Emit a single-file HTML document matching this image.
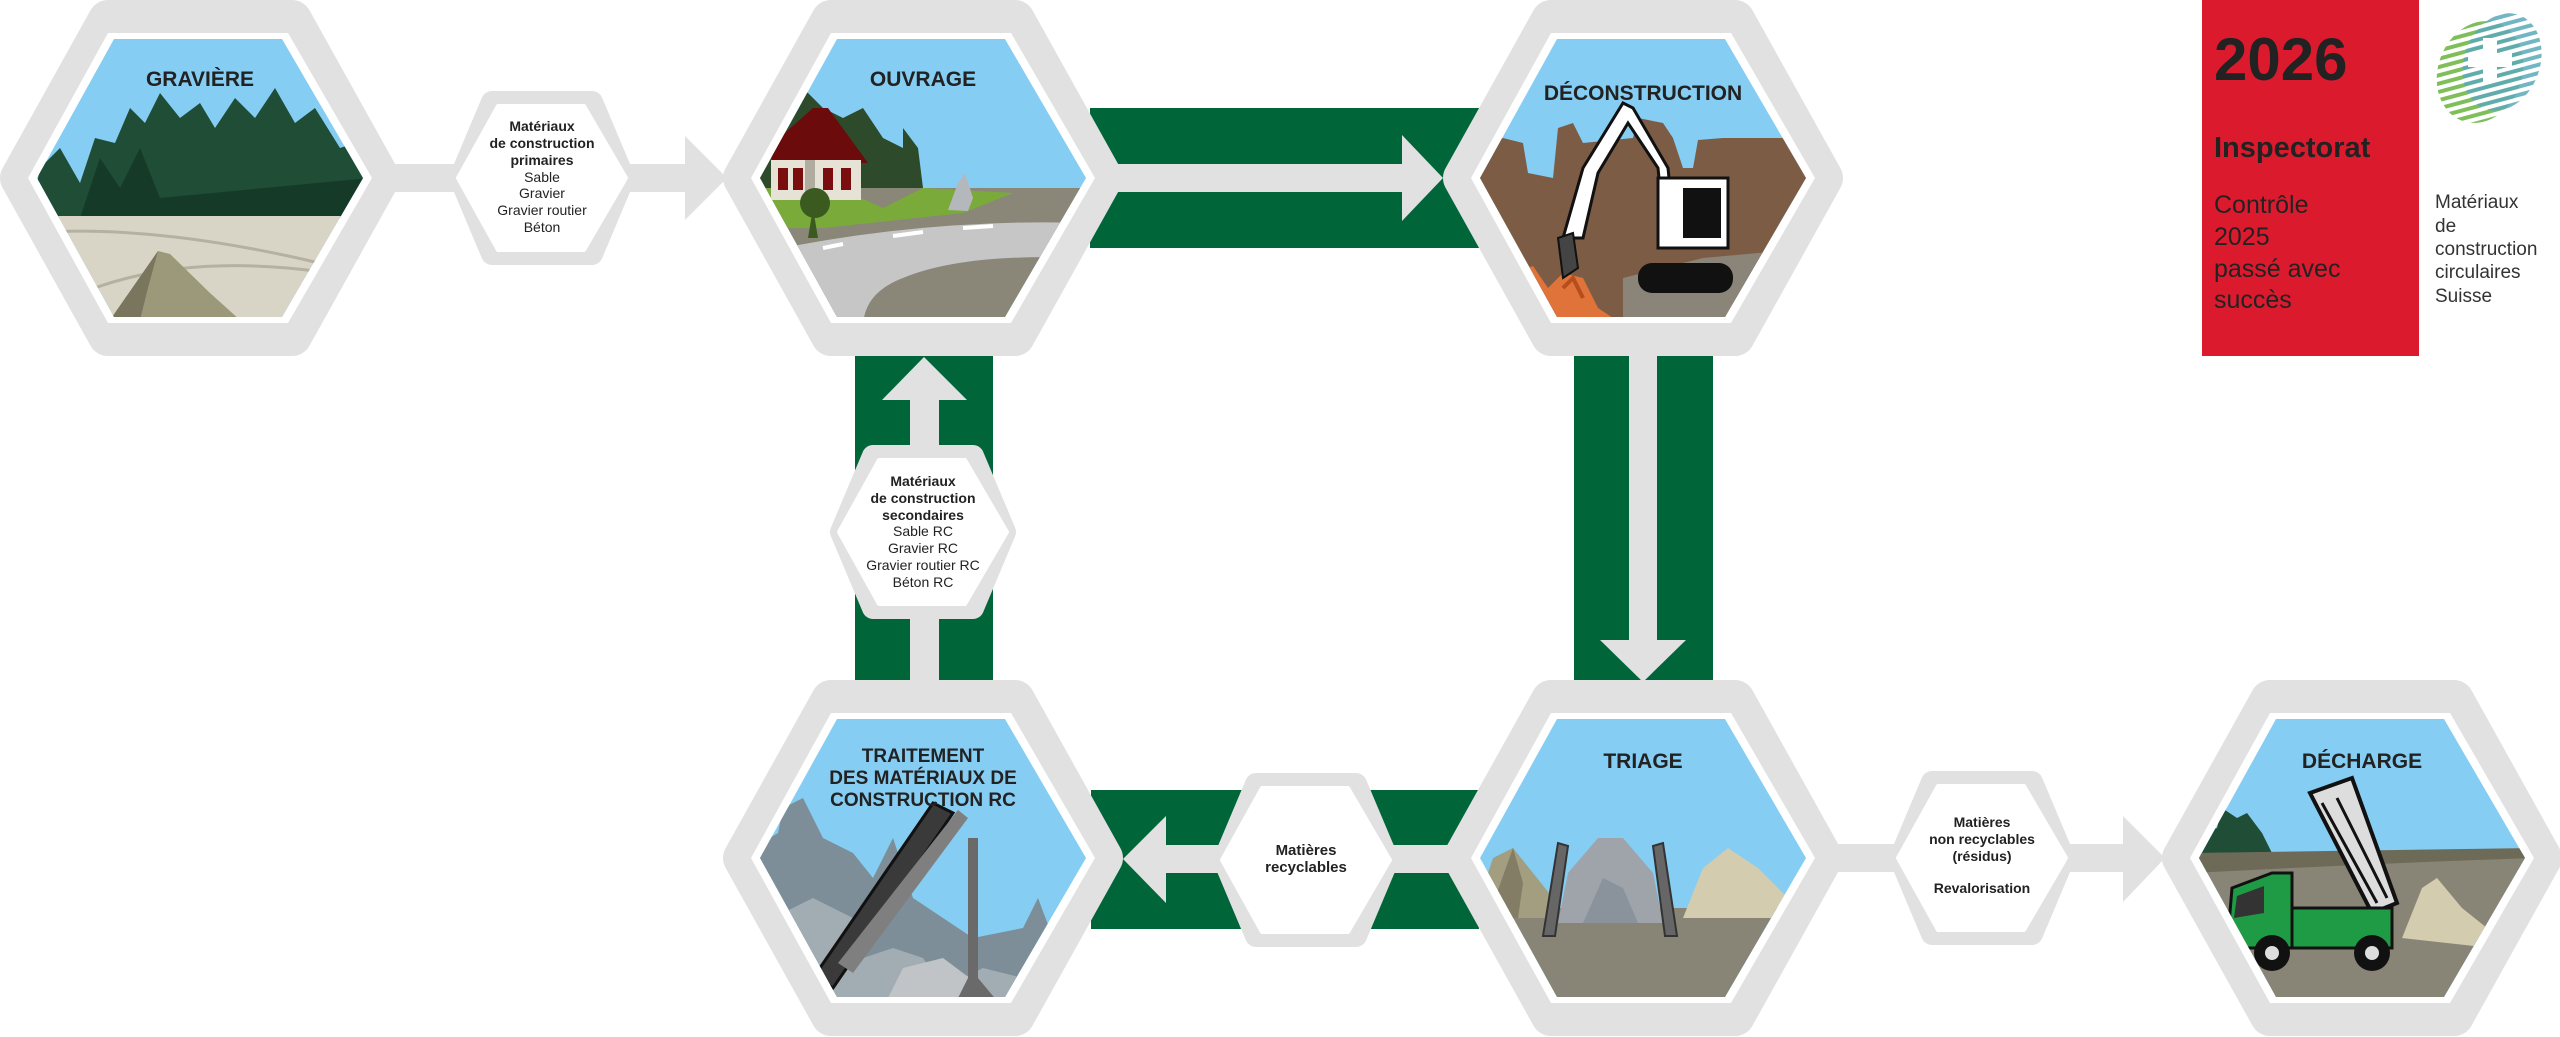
<!DOCTYPE html>
<html><head><meta charset="utf-8"><style>
html,body{margin:0;padding:0;background:#fff;}
svg{display:block;}
text{font-family:"Liberation Sans Narrow","Liberation Sans",sans-serif;fill:#222;}
.t{font-weight:bold;font-size:21px;text-anchor:middle;}
.s{font-size:14px;text-anchor:middle;}
.sb{font-size:14px;font-weight:bold;text-anchor:middle;}
</style></head><body>
<svg width="2560" height="1037" viewBox="0 0 2560 1037" xmlns="http://www.w3.org/2000/svg">
<defs>
<polygon id="outer" points="-180,0 -92,-158 92,-158 180,0 92,158 -92,158" fill="#e1e1e1" stroke="#e1e1e1" stroke-width="40" stroke-linejoin="round"/>
<polygon id="white" points="-172,0 -92,-145 88,-145 172,0 88,145 -92,145" fill="#fff"/>
<clipPath id="img"><polygon points="-163,0 -86,-139 82,-139 163,0 82,139 -86,139"/></clipPath>
<g id="small">
<polygon points="-82,0 -50,-76 50,-76 82,0 50,76 -50,76" fill="#e1e1e1" stroke="#e1e1e1" stroke-width="22" stroke-linejoin="round"/>
<polygon points="-84,0 -44,-72 42,-72 84,0 42,72 -44,72" fill="#fff" stroke="#fff" stroke-width="4" stroke-linejoin="round"/>
</g>
<pattern id="hatch" width="8" height="8" patternUnits="userSpaceOnUse" patternTransform="rotate(-35)">
<rect width="8" height="4" fill="#7fbf5a"/><rect y="4" width="8" height="4" fill="#fff"/>
</pattern>
<pattern id="hatch2" width="8" height="8" patternUnits="userSpaceOnUse" patternTransform="rotate(-35)">
<rect width="8" height="4" fill="#5aa9b8"/><rect y="4" width="8" height="4" fill="#fff"/>
</pattern>
</defs>

<rect x="1090" y="108" width="390" height="140" fill="#00663a"/>
<rect x="1574" y="356" width="139" height="327" fill="#00663a"/>
<rect x="855" y="356" width="138" height="327" fill="#00663a"/>
<rect x="1091" y="790" width="388" height="139" fill="#00663a"/>

<rect x="390" y="164" width="300" height="28" fill="#e1e1e1"/>
<polygon points="685,136 727,178 685,220" fill="#e1e1e1"/>
<rect x="1110" y="164" width="295" height="28" fill="#e1e1e1"/>
<polygon points="1402,135 1443,178 1402,221" fill="#e1e1e1"/>
<rect x="1629" y="350" width="28" height="292" fill="#e1e1e1"/>
<polygon points="1600,640 1686,640 1643,682" fill="#e1e1e1"/>
<rect x="910" y="398" width="29" height="290" fill="#e1e1e1"/>
<polygon points="882,400 967,400 924,357" fill="#e1e1e1"/>
<rect x="1164" y="845" width="290" height="28" fill="#e1e1e1"/>
<polygon points="1166,816 1123,859 1166,903" fill="#e1e1e1"/>
<rect x="1835" y="844" width="292" height="28" fill="#e1e1e1"/>
<polygon points="2123,816 2165,858 2123,902" fill="#e1e1e1"/>

<!-- GRAVIERE -->
<g transform="translate(200,178)">
<use href="#outer"/><use href="#white"/>
<g clip-path="url(#img)">
<rect x="-170" y="-150" width="340" height="300" fill="#85cdf3"/>
<path d="M-170,40 L-160,-10 L-140,-30 L-120,5 L-105,-40 L-85,-35 L-70,-70 L-55,-55 L-40,-85 L-20,-60 L0,-75 L15,-50 L35,-80 L55,-60 L75,-90 L95,-55 L115,-70 L140,-30 L170,-40 L170,40 Z" fill="#1f4d36"/>
<path d="M-120,40 L-100,-20 L-80,10 L-60,-30 L-40,20 L170,0 L170,40 Z" fill="#163a28"/>
<rect x="-170" y="38" width="340" height="120" fill="#d9d5c6"/>
<path d="M-170,55 Q-40,45 140,90" stroke="#b5b1a2" stroke-width="3" fill="none"/>
<path d="M-150,130 Q-40,70 130,95" stroke="#b5b1a2" stroke-width="3" fill="none"/>
<path d="M-90,142 L-42,73 L-30,76 L10,115 L40,142 Z" fill="#9c987a"/>
<path d="M-90,142 L-42,73 L-52,110 L-60,142 Z" fill="#7a765e"/>
</g>
<text class="t" x="0" y="-92">GRAVIÈRE</text>
</g>

<g transform="translate(542,178)"><use href="#small"/></g>
<text class="sb" x="542" y="131">Matériaux</text>
<text class="sb" x="542" y="148">de construction</text>
<text class="sb" x="542" y="165">primaires</text>
<text class="s" x="542" y="182">Sable</text>
<text class="s" x="542" y="198">Gravier</text>
<text class="s" x="542" y="215">Gravier routier</text>
<text class="s" x="542" y="232">Béton</text>

<!-- OUVRAGE -->
<g transform="translate(923,178)">
<use href="#outer"/><use href="#white"/>
<g clip-path="url(#img)">
<rect x="-170" y="-150" width="340" height="300" fill="#85cdf3"/>
<path d="M-165,10 L-160,-40 L-140,-70 L-120,-90 L-100,-70 L-80,-60 L-60,-70 L-40,-40 L-20,-30 L-10,0 L-30,20 Z" fill="#2d4a2a"/>
<path d="M-20,-50 L-5,-30 L0,10 L-20,20 Z" fill="#2d4a2a"/>
<rect x="-165" y="10" width="340" height="150" fill="#8a8778"/>
<path d="M-165,10 L-80,12 L-40,30 L0,10 L90,15 L40,35 L-100,50 L-165,50 Z" fill="#7aab3a"/>
<path d="M-165,75 Q0,40 160,45 L160,80 Q40,75 -20,100 Q-60,115 -60,150 L-165,150 Z" fill="#c6c6c6"/>
<path d="M-162,92 L-145,87 M-100,70 L-80,66 M-30,58 L0,54 M40,50 L70,48" stroke="#fff" stroke-width="4"/>
<polygon points="-155,-30 -110,-70 -95,-70 -55,-15 -150,-15" fill="#6b0b0b"/>
<rect x="-152" y="-18" width="90" height="40" fill="#e6e2d6"/>
<rect x="-145" y="-10" width="10" height="22" fill="#7a0d0d"/><rect x="-130" y="-10" width="10" height="22" fill="#7a0d0d"/>
<rect x="-100" y="-10" width="10" height="22" fill="#7a0d0d"/><rect x="-82" y="-10" width="10" height="22" fill="#7a0d0d"/>
<rect x="-118" y="-18" width="10" height="40" fill="#b0aca0"/>
<path d="M-110,30 L-115,60 L-105,60 Z" fill="#3b5a20"/><circle cx="-108" cy="25" r="15" fill="#3b5a20"/>
<path d="M25,32 L35,5 L42,-5 L50,20 L45,33 Z" fill="#b4b8bc"/>
</g>
<text class="t" x="0" y="-92">OUVRAGE</text>
</g>

<!-- DECONSTRUCTION -->
<g transform="translate(1643,178)">
<use href="#outer"/><use href="#white"/>
<g clip-path="url(#img)">
<rect x="-170" y="-150" width="340" height="300" fill="#85cdf3"/>
<path d="M-170,140 L-170,-25 L-140,-40 L-120,-35 L-115,-5 L-90,0 L-85,-50 L-70,-55 L-60,-35 L-10,-40 L-5,-60 L20,-55 L30,-40 L40,-10 L50,-10 L55,-38 L80,-40 L170,-40 L170,140 Z" fill="#7d5c45"/>
<path d="M-20,140 L-20,100 L60,80 L170,70 L170,140 Z" fill="#8a8578"/>
<path d="M-165,140 L-150,110 L-130,95 L-110,88 L-95,110 L-80,95 L-60,100 L-45,130 L-30,140 Z" fill="#e0733a"/>
<path d="M-130,120 L-115,100 L-100,125 M-80,110 L-70,100 L-60,120" stroke="#b64d1c" stroke-width="4" fill="none"/>
<path d="M-80,60 L-60,-10 L-20,-75 L-10,-70 L25,-10 L30,40 L20,40 L15,-10 L-15,-55 L-45,-5 L-60,60 Z" fill="#fff" stroke="#111" stroke-width="3"/>
<path d="M-85,60 L-70,55 L-65,90 L-80,100 Z" fill="#444" stroke="#111" stroke-width="2"/>
<rect x="15" y="0" width="70" height="70" fill="#fff" stroke="#111" stroke-width="3"/>
<rect x="40" y="10" width="38" height="50" fill="#111"/>
<rect x="-5" y="85" width="95" height="30" rx="14" fill="#111"/>
</g>
<text class="t" x="0" y="-78">DÉCONSTRUCTION</text>
</g>

<g transform="translate(923,532)"><use href="#small"/></g>
<text class="sb" x="923" y="486">Matériaux</text>
<text class="sb" x="923" y="503">de construction</text>
<text class="sb" x="923" y="520">secondaires</text>
<text class="s" x="923" y="536">Sable RC</text>
<text class="s" x="923" y="553">Gravier RC</text>
<text class="s" x="923" y="570">Gravier routier RC</text>
<text class="s" x="923" y="587">Béton RC</text>

<!-- TRAITEMENT -->
<g transform="translate(923,858)">
<use href="#outer"/><use href="#white"/>
<g clip-path="url(#img)">
<rect x="-170" y="-150" width="340" height="300" fill="#85cdf3"/>
<path d="M-170,150 L-170,-10 L-145,-25 L-140,-50 L-120,-60 L-100,-20 L-70,-5 L-50,20 L-30,-20 L-10,40 L20,60 L50,80 L100,70 L115,40 L130,80 L170,120 L170,150 Z" fill="#7d8e98"/>
<path d="M-160,150 L-150,60 L-110,40 L-70,60 L-60,100 L-30,90 L0,100 L20,130 L60,110 L100,120 L150,150 Z" fill="#a2adb3"/>
<path d="M-40,150 L-20,110 L20,100 L60,130 L80,150 Z" fill="#c0c4c6"/>
<path d="M45,-20 L55,-20 L55,120 L80,150 L30,150 L45,120 Z" fill="#6a6a6a"/>
<polygon points="-110,120 -90,130 30,-45 10,-55" fill="#3a3a3a" stroke="#111" stroke-width="3"/>
<polygon points="-85,105 -70,115 45,-40 35,-48" fill="#7f7f7f"/>
</g>
<text class="t" x="0" y="-96" style="font-size:19px">TRAITEMENT</text>
<text class="t" x="0" y="-74" style="font-size:19px">DES MATÉRIAUX DE</text>
<text class="t" x="0" y="-52" style="font-size:19px">CONSTRUCTION RC</text>
</g>

<g transform="translate(1306,860)"><use href="#small"/></g>
<text class="sb" x="1306" y="855" style="font-size:15px">Matières</text>
<text class="sb" x="1306" y="872" style="font-size:15px">recyclables</text>

<!-- TRIAGE -->
<g transform="translate(1643,858)">
<use href="#outer"/><use href="#white"/>
<g clip-path="url(#img)">
<rect x="-170" y="-150" width="340" height="300" fill="#85cdf3"/>
<rect x="-170" y="50" width="340" height="110" fill="#888576"/>
<path d="M-170,60 L-150,0 L-130,-10 L-110,15 L-90,40 L-85,60 Z" fill="#a39e80"/>
<path d="M-155,60 L-130,-10 L-120,25 L-125,60 Z" fill="#827d64"/>
<path d="M40,60 L60,10 L85,-10 L115,10 L150,45 L150,60 Z" fill="#d4ccae"/>
<path d="M-85,65 L-75,15 L-45,-20 L-20,-20 L10,15 L20,65 Z" fill="#9ea4aa"/>
<path d="M-60,65 L-40,20 L-20,30 L-5,65 Z" fill="#8a939b"/>
<polygon points="-100,78 -88,78 -75,-12 -85,-15" fill="#666" stroke="#333" stroke-width="2"/>
<polygon points="22,78 34,78 20,-15 10,-12" fill="#666" stroke="#333" stroke-width="2"/>
</g>
<text class="t" x="0" y="-90">TRIAGE</text>
</g>

<g transform="translate(1982,858)"><use href="#small"/></g>
<text class="sb" x="1982" y="827">Matières</text>
<text class="sb" x="1982" y="844">non recyclables</text>
<text class="sb" x="1982" y="861">(résidus)</text>
<text class="sb" x="1982" y="893">Revalorisation</text>

<!-- DECHARGE -->
<g transform="translate(2362,858)">
<use href="#outer"/><use href="#white"/>
<g clip-path="url(#img)">
<rect x="-170" y="-150" width="340" height="300" fill="#85cdf3"/>
<path d="M-170,-5 L-160,-25 L-145,-30 L-140,-50 L-125,-40 L-115,-45 L-100,-25 L-90,-5 Z" fill="#1f4d36"/>
<rect x="-170" y="-5" width="340" height="160" fill="#888576"/>
<path d="M-170,-5 L170,-10 L170,0 Q20,5 -170,15 Z" fill="#6e6a58"/>
<path d="M40,80 L60,30 L75,20 L100,50 L125,70 L130,90 Z" fill="#d4ccae"/>
<polygon points="-52,-65 -10,-80 35,45 10,55" fill="#ddd" stroke="#111" stroke-width="4"/>
<path d="M-40,-55 L15,45 M-25,-60 L25,40" stroke="#111" stroke-width="3"/>
<polygon points="-130,30 -90,15 -70,15 -70,90 -135,90" fill="#1f9b45" stroke="#111" stroke-width="3"/>
<rect x="-70" y="50" width="100" height="40" fill="#1f9b45" stroke="#111" stroke-width="3"/>
<polygon points="-125,38 -98,28 -98,55 -128,60" fill="#333"/>
<circle cx="-90" cy="95" r="18" fill="#111"/><circle cx="-90" cy="95" r="7" fill="#ddd"/>
<circle cx="10" cy="95" r="18" fill="#111"/><circle cx="10" cy="95" r="7" fill="#ddd"/>
</g>
<text class="t" x="0" y="-90">DÉCHARGE</text>
</g>

<rect x="2202" y="0" width="217" height="356" fill="#dc1a2e"/>
<text x="2214" y="80" style="font-family:'Liberation Sans',sans-serif;font-weight:bold;font-size:60px;fill:#222">2026</text>
<text x="2214" y="157" style="font-family:'Liberation Sans',sans-serif;font-weight:bold;font-size:29px;fill:#222">Inspectorat</text>
<text x="2214" y="213" style="font-family:'Liberation Sans',sans-serif;font-size:25px;fill:#222">Contrôle</text>
<text x="2214" y="245" style="font-family:'Liberation Sans',sans-serif;font-size:25px;fill:#222">2025</text>
<text x="2214" y="277" style="font-family:'Liberation Sans',sans-serif;font-size:25px;fill:#222">passé avec</text>
<text x="2214" y="308" style="font-family:'Liberation Sans',sans-serif;font-size:25px;fill:#222">succès</text>

<ellipse cx="2480" cy="72" rx="42" ry="52" fill="url(#hatch)" transform="rotate(20 2480 72)"/>
<ellipse cx="2502" cy="62" rx="38" ry="50" fill="url(#hatch2)" opacity="0.85" transform="rotate(20 2502 62)"/>
<rect x="2483" y="38" width="14" height="44" fill="#fff"/>
<rect x="2468" y="53" width="44" height="14" fill="#fff"/>
<text x="2435" y="208" style="font-family:'Liberation Sans',sans-serif;font-size:19px;fill:#333">Matériaux</text>
<text x="2435" y="232" style="font-family:'Liberation Sans',sans-serif;font-size:19px;fill:#333">de</text>
<text x="2435" y="255" style="font-family:'Liberation Sans',sans-serif;font-size:19px;fill:#333">construction</text>
<text x="2435" y="278" style="font-family:'Liberation Sans',sans-serif;font-size:19px;fill:#333">circulaires</text>
<text x="2435" y="302" style="font-family:'Liberation Sans',sans-serif;font-size:19px;fill:#333">Suisse</text>
</svg>
</body></html>
